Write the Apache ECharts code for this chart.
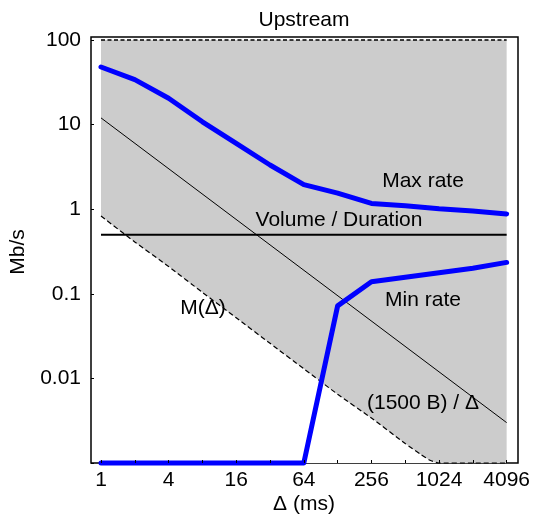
<!DOCTYPE html>
<html>
<head>
<meta charset="utf-8">
<title>Upstream</title>
<script src="https://cdn.jsdelivr.net/npm/echarts@6/dist/echarts.min.js"></script>
<style>
  html, body { margin: 0; padding: 0; background: #fff; }
  #chart { width: 533px; height: 519px; }
</style>
</head>
<body>
<div id="chart"></div>
<script>
// values (delta in ms, rates in Mb/s)
var deltas = [1, 2, 4, 8, 16, 32, 64, 128, 256, 512, 1024, 2048, 4096];
var maxRate = [48, 34, 20.5, 10.8, 6.0, 3.33, 1.95, 1.55, 1.17, 1.1, 1.01, 0.95, 0.88];
var minRate = [0.001, 0.001, 0.001, 0.001, 0.001, 0.001, 0.001, 0.072, 0.139, 0.157, 0.177, 0.2, 0.235];

var volDeltas = [1, 4096];
var volValues = [0.5, 0.5];

var pktDeltas = [1, 4096];
var pktValues = [12, 0.003];

// shaded band: between M(delta) and the 100 Mb/s ceiling
var topDeltas = [1, 4096];
var topValues = [100, 100];
var mDeltas = [1, 2, 4, 8, 16, 32, 64, 128, 256, 512, 700, 850, 1024, 2048, 4096];
var mValues = [0.83, 0.41, 0.21, 0.104, 0.052, 0.026, 0.013, 0.0065, 0.0034, 0.0017, 0.00127, 0.00108, 0.001, 0.001, 0.001];

var xTickLabels = ['1', '4', '16', '64', '256', '1024', '4096'];
var yTickLabels = ['0.01', '0.1', '1', '10', '100'];

var FONT = '"Liberation Sans", Arial, sans-serif';

function pairs(xs, ys) {
  return xs.map(function (x, i) { return [x, ys[i]]; });
}

var chart = echarts.init(document.getElementById('chart'));

chart.setOption({
  animation: false,
  grid: { left: 101, right: 25, top: 40, bottom: 56 },
  xAxis: {
    type: 'log',
    logBase: 2,
    min: 1,
    max: 4096,
    interval: 1,
    splitNumber: 12,
    z: 10,
    axisLine: { show: false },
    axisTick: { show: true, inside: true, length: 3, lineStyle: { color: '#000' } },
    splitLine: { show: false },
    axisLabel: {
      margin: 7,
      color: '#000',
      fontSize: 21,
      fontFamily: FONT,
      formatter: function (v) {
        var e = Math.round(Math.log(v) / Math.LN2);
        return e % 2 === 0 ? xTickLabels[e / 2] : '';
      }
    }
  },
  yAxis: {
    type: 'log',
    logBase: 10,
    min: 0.001,
    max: 100,
    offset: 10,
    z: 10,
    axisLine: { show: false },
    axisTick: { show: true, inside: true, length: 3, lineStyle: { color: '#000' } },
    splitLine: { show: false },
    axisLabel: {
      margin: 10,
      color: '#000',
      fontSize: 21,
      fontFamily: FONT,
      formatter: function (v) {
        var e = Math.round(Math.log(v) / Math.LN10);
        return yTickLabels[e + 2] || '';
      }
    }
  },
  series: [
    {
      name: 'ceiling',
      type: 'line',
      data: pairs(topDeltas, topValues),
      symbol: 'none',
      clip: false,
      lineStyle: { color: '#000', width: 1.6, type: [4, 2.5] },
      areaStyle: { color: '#cccccc', opacity: 1, origin: 'start' }
    },
    {
      name: 'M',
      type: 'line',
      data: pairs(mDeltas, mValues),
      symbol: 'none',
      clip: false,
      smooth: 0.2,
      lineStyle: { color: '#000', width: 1.2, type: [5, 3] },
      areaStyle: { color: '#ffffff', opacity: 1, origin: 'start' }
    },
    {
      name: '1500B/delta',
      type: 'line',
      data: pairs(pktDeltas, pktValues),
      symbol: 'none',
      lineStyle: { color: '#000', width: 1 }
    },
    {
      name: 'Volume / Duration',
      type: 'line',
      data: pairs(volDeltas, volValues),
      symbol: 'none',
      lineStyle: { color: '#000', width: 2 }
    },
    {
      name: 'Max rate',
      type: 'line',
      data: pairs(deltas, maxRate),
      symbol: 'none',
      clip: false,
      lineStyle: { color: '#0000ff', width: 5, cap: 'round', join: 'round' }
    },
    {
      name: 'Min rate',
      type: 'line',
      data: pairs(deltas, minRate),
      symbol: 'none',
      clip: false,
      lineStyle: { color: '#0000ff', width: 5, cap: 'round', join: 'round' }
    }
  ],
  graphic: [
    {
      type: 'rect', z: 1, silent: true,
      shape: { x: 91, y: 37, width: 427, height: 426 },
      style: { fill: 'none', stroke: '#000', lineWidth: 1.5 }
    },
    { type: 'text', x: 304, y: 20, style: { text: 'Upstream', font: '21px ' + FONT, fill: '#000', align: 'center', verticalAlign: 'middle' } },
    { type: 'text', x: 423, y: 181, z: 20, style: { text: 'Max rate', font: '21px ' + FONT, fill: '#000', align: 'center', verticalAlign: 'middle' } },
    { type: 'text', x: 339, y: 220, z: 20, style: { text: 'Volume / Duration', font: '21px ' + FONT, fill: '#000', align: 'center', verticalAlign: 'middle' } },
    { type: 'text', x: 423, y: 300, z: 20, style: { text: 'Min rate', font: '21px ' + FONT, fill: '#000', align: 'center', verticalAlign: 'middle' } },
    { type: 'text', x: 203, y: 308, z: 20, style: { text: 'M(Δ)', font: '21px ' + FONT, fill: '#000', align: 'center', verticalAlign: 'middle' } },
    { type: 'text', x: 423, y: 403, z: 20, style: { text: '(1500 B) / Δ', font: '21px ' + FONT, fill: '#000', align: 'center', verticalAlign: 'middle' } },
    { type: 'text', x: 304, y: 504, style: { text: 'Δ (ms)', font: '21px ' + FONT, fill: '#000', align: 'center', verticalAlign: 'middle' } },
    { type: 'text', x: 18, y: 252, rotation: Math.PI / 2, style: { text: 'Mb/s', font: '21px ' + FONT, fill: '#000', align: 'center', verticalAlign: 'middle' } }
  ]
});
</script>
</body>
</html>
